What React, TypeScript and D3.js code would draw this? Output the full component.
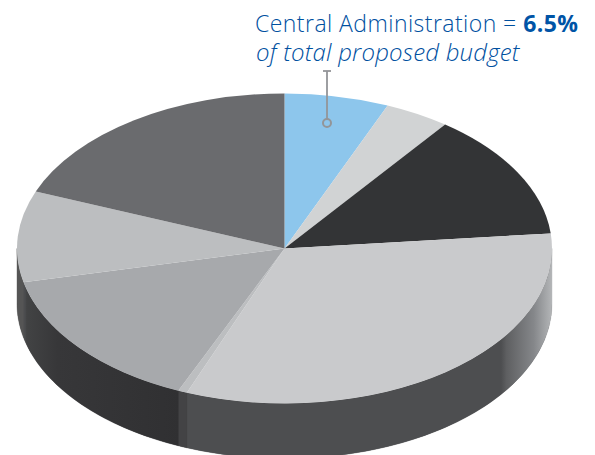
import * as d3 from "d3";

const WIDTH = 595;
const HEIGHT = 455;

// share of the budget per slice, clockwise from 12 o'clock
const shares = [6.3, 3.95, 13.2, 32.5, 0.55, 15, 9.5, 19];
const topColors = ["#8dc6ec", "#d1d3d4", "#333436", "#c9cacc", "#bcbec0", "#a7a9ac", "#bcbec0", "url(#topDark)"];
const sideColors = ["#333", "#333", "#333", "url(#sideRight)", "#434345", "url(#sideLeft)", "#555", "#555"];

const cx = 284.5;
const cy = 248.5;
const rx = 267.5;
const ry = 155;
const depth = 55;

const pie = d3.pie<number>().sort(null).value((d) => d);
const slices = pie(shares);
const arc = d3.arc<d3.PieArcDatum<number>>().innerRadius(0).outerRadius(rx);

// px and py turn a pie angle into a point on the tilted rim
const px = (a: number) => cx + rx * Math.sin(a);
const py = (a: number) => cy - ry * Math.cos(a);

function wallPath(start: number, end: number) {
  const a0 = Math.max(start, Math.PI / 2);
  const a1 = Math.min(end, (3 * Math.PI) / 2);
  if (a1 <= a0) return null;
  const angles = d3.range(0, 41).map((i) => a0 + ((a1 - a0) * i) / 40);
  const upper = angles.map((a) => [px(a), py(a)] as [number, number]);
  const lower = angles.map((a) => [px(a), py(a) + depth] as [number, number]).reverse();
  return d3.line()([...upper, ...lower]) + "Z";
}

export default function App() {
  return (
    <svg
      width={WIDTH}
      height={HEIGHT}
      style={{ position: "absolute", left: 0, top: 0 }}
    >
      <defs>
        <linearGradient id="sideRight" gradientUnits="userSpaceOnUse" x1={188} x2={552} y1={0} y2={0}>
          <stop offset="0" stopColor="#4d4e50" />
          <stop offset="0.86" stopColor="#4d4e50" />
          <stop offset="0.875" stopColor="#5e5f61" />
          <stop offset="0.95" stopColor="#85878a" />
          <stop offset="1" stopColor="#b4b6b8" />
        </linearGradient>
        <linearGradient id="sideLeft" gradientUnits="userSpaceOnUse" x1={17} x2={180} y1={0} y2={0}>
          <stop offset="0" stopColor="#58595b" />
          <stop offset="0.05" stopColor="#4b4c4e" />
          <stop offset="0.06" stopColor="#424344" />
          <stop offset="0.25" stopColor="#373739" />
          <stop offset="1" stopColor="#303032" />
        </linearGradient>
        <linearGradient id="topDark" gradientUnits="userSpaceOnUse" x1={36} x2={284} y1={0} y2={0}>
          <stop offset="0" stopColor="#6a6b6e" />
          <stop offset="1" stopColor="#616265" />
        </linearGradient>
      </defs>

      {/* base wall keeps the joins between wall pieces from showing white */}
      <path d={wallPath(Math.PI / 2, (3 * Math.PI) / 2) ?? ""} fill="#434345" />
      {slices.map((s, i) => {
        const d = wallPath(s.startAngle, s.endAngle);
        return d ? <path key={i} d={d} fill={sideColors[i]} stroke={sideColors[i]} strokeWidth={0.4} /> : null;
      })}

      <g transform={`translate(${cx},${cy}) scale(1,${ry / rx})`}>
        {slices.map((s, i) => (
          <path key={i} d={arc(s) ?? ""} fill={topColors[i]} />
        ))}
      </g>

      <g stroke="#939598" fill="none" strokeWidth={1.8}>
        <line x1={327} x2={327} y1={71} y2={119} />
        <line x1={323} x2={331} y1={71} y2={71} />
        <circle cx={327} cy={123} r={4} strokeWidth={2} />
      </g>

      <g fill="#00509f" fontFamily="'Open Sans', sans-serif">
        <text x={255} y={31.5} fontSize={23} fontWeight={300} letterSpacing={0.45}>
          Central Administration = <tspan fontWeight={700} fill="#0054a6">6.5%</tspan>
        </text>
        <text x={256} y={60.5} fontSize={24} fontStyle="italic" fontWeight={300} letterSpacing={0.2}>
          of total proposed budget
        </text>
      </g>
    </svg>
  );
}
